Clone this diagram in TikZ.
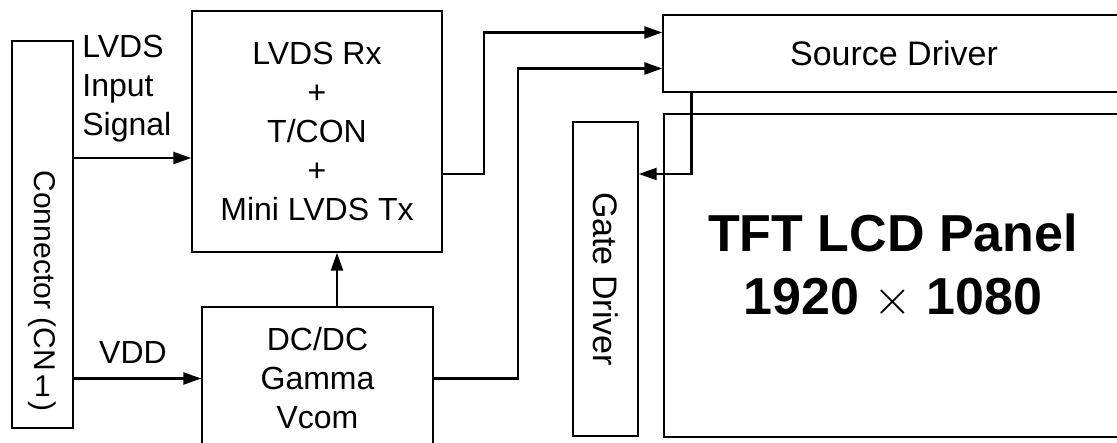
\documentclass[tikz,border=0pt]{standalone}
\usepackage{fontspec}
\setmainfont{Liberation Sans}
\usepackage{tikz}
\usetikzlibrary{positioning, arrows.meta, calc}

\begin{document}
\begin{tikzpicture}[
    x=0.5pt, y=-0.5pt,
    box/.style={draw, line width=0.7pt, inner sep=0pt, align=center, font=\fontsize{16}{19.5}\selectfont},
    arr/.style={-{Triangle[length=9pt, width=6pt]}, line width=1.2pt},
    lbl/.style={inner sep=0pt, align=left, font=\fontsize{16}{19.5}\selectfont},
    vlbl/.style={inner sep=0pt, rotate=-90, font=\fontsize{17}{20}\selectfont},
    bigtxt/.style={inner sep=0pt, align=center, font=\fontsize{26}{31.5}\selectfont\bfseries}
]
\useasboundingbox (0,0) rectangle (1117,443);
\clip (0,0) rectangle (1117,443);
% Connector on the left
\node[box, minimum width=30.5pt, minimum height=193.5pt] (conn) at (42.5,234.5) {};
\node[vlbl, font=\fontsize{15}{18}\selectfont] (connlbl) at (42,291) {Connector (CN\,\rotatebox{90}{1}\,)};
% Receiver / timing controller block
\node[box, minimum width=125pt, minimum height=120.5pt] (tcon) at (317,131.5) {LVDS Rx\\+\\T/CON\\+\\Mini LVDS Tx};
% Power block, runs off the bottom edge
\node[box, minimum width=115.5pt, minimum height=71.5pt] (dcdc) at (317.5,378.5) {DC/DC\\Gamma\\Vcom};
% Drivers and panel, open on the right
\node[box, minimum width=231pt, minimum height=38.5pt, font=\fontsize{17}{20}\selectfont] (src) at (894,53.5) {Source Driver};
\node[box, minimum width=32.5pt, minimum height=157pt] (gate) at (605.5,279) {};
\node[vlbl] (gatelbl) at (gate.center) {Gate Driver};
\node[box, minimum width=230.5pt, minimum height=161.5pt] (lcd) at (894.5,275.5) {};
\node[bigtxt] (lcdlbl) at (893,266) {TFT LCD Panel\\1920 $\times$ 1080};
% Input labels
\node[lbl, anchor=north west] (siglbl) at (82,35) {LVDS\\Input\\Signal};
\node[lbl, anchor=base] (vddlbl) at (133,363) {VDD};
% Signal and power paths
\coordinate (sigin) at (73,158);
\draw[arr] (sigin) -- (sigin -| tcon.west);
\draw[arr] (conn.east |- dcdc.west) -- (dcdc.west);
\coordinate (pwr) at (337,307);
\draw[arr] (pwr) -- (pwr |- tcon.south);
\coordinate (tout) at (442,174);
\draw[arr] (tout) -- ++(42,0) |- ($(src.west)+(0,-21)$);
\draw[arr] (dcdc.east) -- ++(84,0) |- ($(src.west)+(0,15)$);
% Source driver feeds the gate driver
\draw[arr] ($(src.south west)+(29,0)$) |- (gate.east |- tout);
\end{tikzpicture}
\end{document}
